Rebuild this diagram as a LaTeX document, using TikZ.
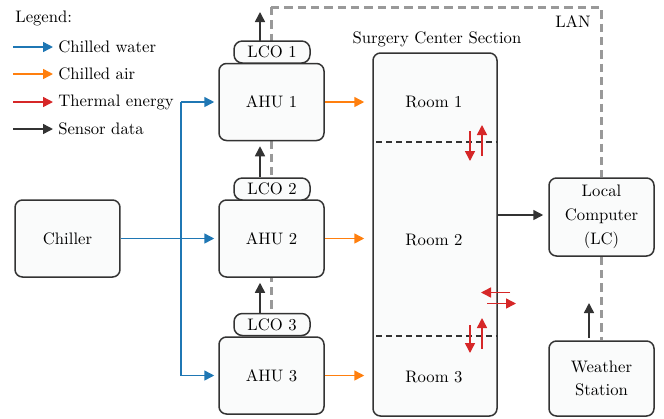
\documentclass[tikz,border=0pt]{standalone}
\usetikzlibrary{arrows.meta,backgrounds}
\definecolor{cwater}{HTML}{1F77B4}
\definecolor{cair}{HTML}{FF7F0E}
\definecolor{cheat}{HTML}{D62728}
\definecolor{cdata}{HTML}{333333}
\definecolor{cbox}{HTML}{FAFBFB}
\definecolor{clan}{HTML}{999999}
\tikzset{
  box/.style={draw=cdata, fill=cbox, line width=0.9pt, rounded corners=4.5pt, inner sep=0pt, align=center, font=\normalsize},
  bigbox/.style={box, minimum width=63pt, minimum height=46.2pt},
  lcobox/.style={box, minimum width=45.6pt, minimum height=13.2pt, rounded corners=5pt},
  arr/.style={line width=0.9pt, -{Triangle[length=6pt,width=6pt]}},
  water/.style={arr, draw=cwater, fill=cwater},
  air/.style={arr, draw=cair, fill=cair},
  heat/.style={arr, draw=cheat, fill=cheat},
  data/.style={arr, draw=cdata, fill=cdata},
  lan/.style={draw=clan, line width=1.8pt, dash pattern=on 5pt off 3pt},
  divider/.style={draw=cdata, line width=0.7pt, dash pattern=on 3.5pt off 2.5pt},
  lbl/.style={inner sep=0pt, font=\normalsize}
}
\begin{document}
\begin{tikzpicture}[x=0.6pt,y=-0.6pt]
\useasboundingbox (0,0) rectangle (664,418);
% legend
\node[lbl, anchor=west] (legtitle) at (15,18) {Legend:};
\coordinate (l1a) at (13,47); \coordinate (l1b) at (53,47);
\coordinate (l2a) at (13,74); \coordinate (l2b) at (53,74);
\coordinate (l3a) at (13,102); \coordinate (l3b) at (53,102);
\coordinate (l4a) at (13,129); \coordinate (l4b) at (53,129);
\draw[water] (l1a) -- (l1b);
\draw[air] (l2a) -- (l2b);
\draw[heat] (l3a) -- (l3b);
\draw[data] (l4a) -- (l4b);
\node[lbl, anchor=west] (leg1) at (58,47) {Chilled water};
\node[lbl, anchor=west] (leg2) at (58,74) {Chilled air};
\node[lbl, anchor=west] (leg3) at (58,102) {Thermal energy};
\node[lbl, anchor=west] (leg4) at (58,129) {Sensor data};

% nodes
\node[bigbox] (chiller) at (67.5,238.5) {Chiller};
\node[bigbox] (ahu1) at (271.5,102) {AHU 1};
\node[bigbox] (ahu2) at (271.5,238.5) {AHU 2};
\node[bigbox] (ahu3) at (271.5,375.5) {AHU 3};
\node[lcobox] (lco1) at (272,52) {LCO 1};
\node[lcobox] (lco2) at (272,189) {LCO 2};
\node[lcobox] (lco3) at (272,324.5) {LCO 3};
\node[box, minimum width=74.4pt, minimum height=217.8pt] (surg) at (435,234.5) {};
\node[lbl] (surgtitle) at (437,39) {Surgery Center Section};
\node[lbl] (room1) at (434,102) {Room 1};
\node[lbl] (room2) at (434,240) {Room 2};
\node[lbl] (room3) at (434,377) {Room 3};
\node[box, minimum width=63pt, minimum height=46.8pt] (lc) at (601.5,217) {Local\\[2.4pt]Computer\\[2.4pt](LC)};
\node[box, minimum width=63pt, minimum height=45pt] (ws) at (601.5,378.5) {Weather\\[2pt]Station};
\node[lbl] (lanlbl) at (573,22) {LAN};

% LAN lines (behind)
\begin{scope}[on background layer]
\coordinate (lantop) at (271,7);
\coordinate (lancorner) at (601,7);
\draw[lan] (lantop) -- (lco3.north -| lantop);
\draw[lan] (lantop) -- (lancorner) -- (lc.north -| lancorner);
\draw[lan] (lc.south -| lancorner) -- (ws.north -| lancorner);
\end{scope}

% room dividers
\coordinate (d1a) at (376,142); \coordinate (d2a) at (376,336);
\draw[divider] (d1a) -- (d1a -| surg.east);
\draw[divider] (d2a) -- (d2a -| surg.east);

% chilled water
\coordinate (bt) at (181,102);
\coordinate (bb) at (181,375.5);
\draw[cwater, line width=0.9pt] (bt) -- (bb);
\draw[water, shorten >=2.4pt] (chiller.east) -- (ahu2.west);
\draw[water, shorten >=2.4pt] (bt) -- (ahu1.west);
\draw[water, shorten >=2.4pt] (bb) -- (ahu3.west);

% chilled air
\draw[air, shorten >=4.8pt] (ahu1.east) -- (ahu1.east -| surg.west);
\draw[air, shorten >=4.8pt] (ahu2.east) -- (ahu2.east -| surg.west);
\draw[air, shorten >=4.8pt] (ahu3.east) -- (ahu3.east -| surg.west);

% sensor data
\coordinate (s1) at (260,41); \coordinate (s1t) at (260,12);
\draw[data] (s1) -- (s1t);
\draw[data, shorten >=3pt] (lco2.north -| s1) -- (ahu1.south -| s1);
\draw[data, shorten >=3pt] (lco3.north -| s1) -- (ahu2.south -| s1);
\coordinate (sr) at (497,215);
\draw[data, shorten >=3pt] (sr) -- (sr -| lc.west);
\coordinate (w1) at (589,338); \coordinate (w1t) at (589,303);
\draw[data] (w1) -- (w1t);

% thermal energy
\coordinate (h1a) at (470,131); \coordinate (h1b) at (470,161);
\coordinate (h2a) at (482,156); \coordinate (h2b) at (482,125);
\coordinate (h3a) at (470,325); \coordinate (h3b) at (470,353);
\coordinate (h4a) at (482,349); \coordinate (h4b) at (482,318);
\coordinate (h5a) at (510,292.5); \coordinate (h5b) at (481,292.5);
\coordinate (h6a) at (487,303.5); \coordinate (h6b) at (516,303.5);
\draw[heat] (h1a) -- (h1b);
\draw[heat] (h2a) -- (h2b);
\draw[heat] (h3a) -- (h3b);
\draw[heat] (h4a) -- (h4b);
\draw[heat] (h5a) -- (h5b);
\draw[heat] (h6a) -- (h6b);
\end{tikzpicture}
\end{document}
